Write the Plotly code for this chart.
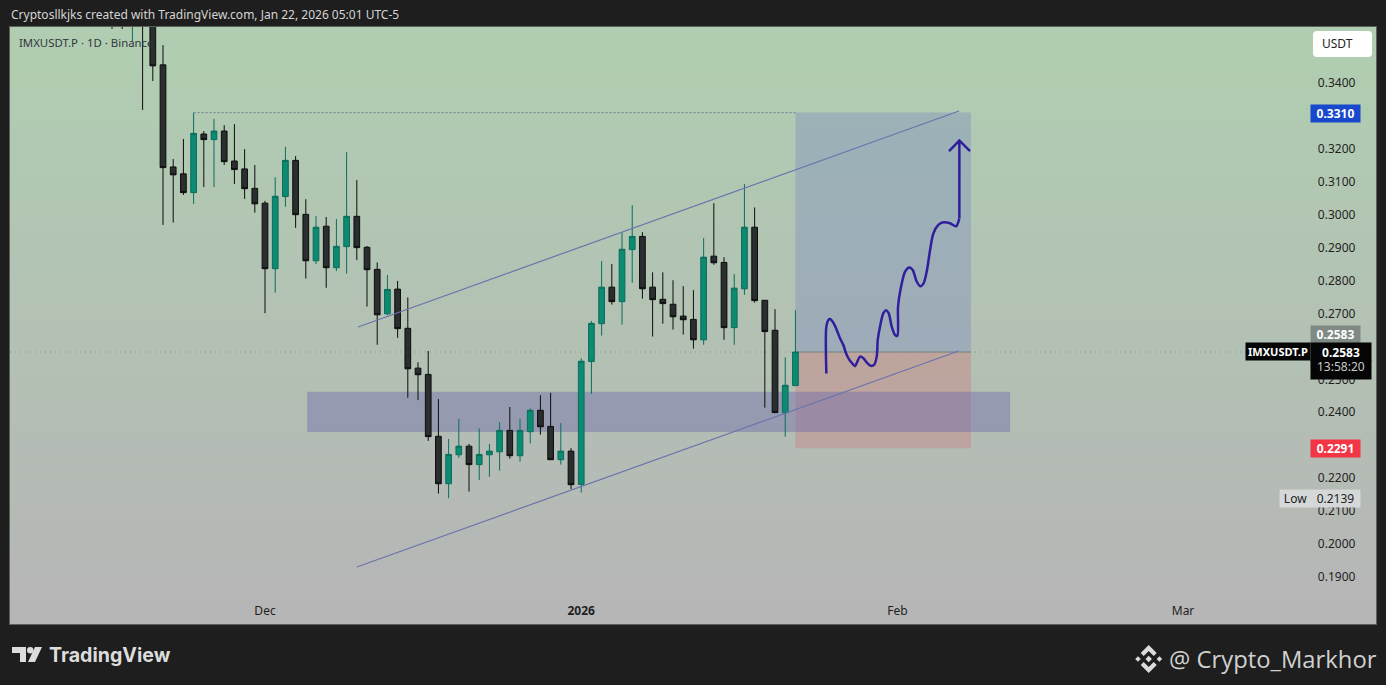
import pandas as pd
import plotly.graph_objects as go

W, H = 1386, 685
PLOT_L, PLOT_R, PLOT_T, PLOT_B = 10, 1376, 27, 624

# daily candles, starts Nov 16 2025
start_day = "2025-11-16"
opens = [.3750, .3700, .3600, .3720, .3600, .3455, .3145, .3124, .3067, .3245, .3228, .3254, .3163, .3139, .3080,
         .3035, .2836, .3055, .3165, .3001, .2860, .2965, .2839, .2903, .2995, .2901, .2834, .2699, .2774, .2655,
         .2534, .2515, .2327, .2183, .2271, .2297, .2241, .2271, .2280, .2345, .2268, .2341, .2406, .2357, .2256, .2282,
         .2181, .2554, .2669, .2780, .2736, .2894, .2934, .2780, .2743, .2728, .2692, .2682, .2620, .2874, .2855,
         .2657, .2775, .2962, .2740, .2649, .2399, .2481]
highs = [.3800, .3760, .3760, .3780, .3650, .3515, .3169, .3230, .3310, .3254, .3291, .3272, .3275, .3199, .3151,
         .3042, .3114, .3206, .3178, .3047, .2996, .2993, .2987, .3190, .3105, .2905, .2855, .2817, .2799, .2749,
         .2552, .2586, .2440, .2319, .2380, .2304, .2351, .2304, .2370, .2416, .2380, .2412, .2452, .2459, .2367, .2291,
         .2564, .2677, .2859, .2850, .2945, .3029, .2947, .2825, .2825, .2801, .2783, .2771, .2929, .3035, .2871,
         .2820, .3093, .3022, .2740, .2713, .2567, .2710]
lows = [.3564, .3564, .3524, .3318, .3406, .2969, .2976, .3060, .3033, .3084, .3084, .3151, .3093, .3048, .3006,
        .2701, .2763, .3024, .2960, .2806, .2850, .2778, .2829, .2821, .2862, .2721, .2605, .2695, .2626, .2444,
        .2437, .2313, .2153, .2139, .2262, .2159, .2194, .2204, .2223, .2259, .2250, .2305, .2332, .2256, .2241, .2167,
        .2156, .2456, .2633, .2727, .2666, .2793, .2745, .2630, .2669, .2651, .2636, .2593, .2605, .2848, .2620,
        .2605, .2757, .2733, .2414, .2399, .2326, .2481]
closes = [.3700, .3620, .3720, .3600, .3452, .3143, .3121, .3067, .3247, .3228, .3254, .3161, .3137, .3079, .3033,
          .2836, .3056, .3165, .3000, .2860, .2962, .2839, .2904, .2995, .2900, .2833, .2696, .2773, .2654, .2532,
          .2514, .2326, .2183, .2272, .2297, .2241, .2272, .2282, .2345, .2268, .2345, .2406, .2356, .2256, .2282, .2180,
          .2555, .2670, .2780, .2736, .2895, .2934, .2775, .2742, .2730, .2690, .2681, .2620, .2871, .2854, .2657,
          .2777, .2962, .2739, .2645, .2399, .2482, .2583]

# drawings on the chart
channel_top_x = ["2025-12-10 03:00", "2026-02-07 01:00"]
channel_top_y = [.2659, .3315]
channel_low_x = ["2025-12-10 00:00", "2026-02-07 00:00"]
channel_low_y = [.1930, .2586]
high_level_x = ["2025-11-24", "2026-01-22"]
high_level_y = [.3310, .3310]
zone_x = ["2025-12-05 03:00", "2026-02-12 01:00"]
zone_y = [.2340, .2462]
position_x = ["2026-01-22", "2026-02-08 05:00"]
target_price, entry_price, stop_price = .3310, .2583, .2291
low_price = .2139

# hand drawn path, x = days after Dec 1
path_days = [55.03, 55.03, 55.23, 55.39, 55.72, 56.05, 56.37, 56.70, 56.96, 57.29, 57.61, 57.84, 58.07, 58.33, 58.66,
             59.05, 59.38, 59.71, 59.97, 60.07, 60.29, 60.62, 60.88, 61.14, 61.44, 61.76, 61.99, 62.06, 62.32, 62.75,
             63.17, 63.50, 63.89, 64.22, 64.54, 64.87, 65.20, 65.52, 66.01, 66.50, 67.16, 67.75, 68.07]
path_prices = [.2518, .2660, .2680, .2683, .2672, .2650, .2625, .2604, .2579, .2559, .2547, .2540, .2554, .2569, .2564,
               .2549, .2541, .2544, .2569, .2620, .2660, .2701, .2710, .2701, .2660, .2635, .2632, .2721, .2776, .2827,
               .2840, .2832, .2797, .2783, .2790, .2827, .2893, .2943, .2969, .2977, .2974, .2965, .2989]
arrow_days = [68.07, 68.07, 67.06, 68.07, 69.12]
arrow_prices = [.2989, .3225, .3193, .3225, .3193]

y_ticks = [.34, .32, .31, .30, .29, .28, .27, .25, .24, .22, .21, .20, .19]
x_ticks = ["2025-12-01", "2026-01-01", "2026-02-01", "2026-03-01"]
x_labels = ["Dec", "<b>2026</b>", "Feb", "Mar"]


def px(x):
    return (x - PLOT_L) / (PLOT_R - PLOT_L)


def py(y):
    return (PLOT_B - y) / (PLOT_B - PLOT_T)


def days(vals):
    return pd.Timestamp("2025-12-01") + pd.to_timedelta(vals, unit="D")


def poly(points):
    return "M " + " L ".join(f"{px(a)},{py(b)}" for a, b in points) + " Z"


def label(fig, text, x, y, color="#ffffff", size=12, bg=None, w=None, h=None, bold=False, family="Noto Sans", anchor="center"):
    fig.add_annotation(text=f"<b>{text}</b>" if bold else text, x=px(x), y=py(y), xref="paper", yref="paper",
                       showarrow=False, xanchor=anchor, yanchor="middle", bgcolor=bg, width=w, height=h, borderpad=0,
                       font=dict(color=color, size=size, family=family))


dates = pd.date_range(start_day, periods=len(opens), freq="D")

fig = go.Figure()

# background gradient, green on top to grey at the bottom
# each band runs to the bottom of the plot so no seams show
shapes = []
steps = 48
for i in range(steps):
    t = i / (steps - 1)
    col = f"rgb({176 + 6 * t:.0f},{205 - 23 * t:.0f},{177 + 5 * t:.0f})"
    shapes.append(dict(type="rect", xref="paper", yref="paper", x0=0, x1=1, y0=0, y1=1 - i / steps,
                       fillcolor=col, line_width=0, layer="below"))

# support zone + long position boxes
shapes.append(dict(type="rect", x0=position_x[0], x1=position_x[1], y0=entry_price, y1=target_price,
                   fillcolor="rgba(108,121,196,0.3)", line_width=0, layer="below"))
shapes.append(dict(type="rect", x0=position_x[0], x1=position_x[1], y0=stop_price, y1=entry_price,
                   fillcolor="rgba(212,103,110,0.3)", line_width=0, layer="below"))
shapes.append(dict(type="rect", x0=zone_x[0], x1=zone_x[1], y0=zone_y[0], y1=zone_y[1],
                   fillcolor="rgba(103,100,170,0.4)", line_width=0, layer="below"))
shapes.append(dict(type="line", x0=position_x[0], x1=position_x[1], y0=entry_price, y1=entry_price,
                   line=dict(color="#74827f", width=1), layer="below"))
shapes.append(dict(type="line", xref="paper", x0=0, x1=px(1246), y0=entry_price, y1=entry_price,
                   line=dict(color="#8d918c", width=1, dash="1px,4px"), layer="below"))

# price scale button
x0, x1, y0, y1 = 1313, 1372, 31, 57
shapes.append(dict(type="path", xref="paper", yref="paper", fillcolor="#ffffff", line_width=0,
                   path=f"M {px(x0 + 4)},{py(y0)} L {px(x1 - 4)},{py(y0)} Q {px(x1)},{py(y0)} {px(x1)},{py(y0 + 4)} "
                        f"L {px(x1)},{py(y1 - 4)} Q {px(x1)},{py(y1)} {px(x1 - 4)},{py(y1)} "
                        f"L {px(x0 + 4)},{py(y1)} Q {px(x0)},{py(y1)} {px(x0)},{py(y1 - 4)} "
                        f"L {px(x0)},{py(y0 + 4)} Q {px(x0)},{py(y0)} {px(x0 + 4)},{py(y0)} Z"))

# TradingView logo
logo = "#dcdcdc"
shapes.append(dict(type="path", xref="paper", yref="paper", fillcolor=logo, line_width=0,
                   path=poly([(12, 647), (26, 647), (26, 662), (20, 662), (20, 653), (12, 653)])))
shapes.append(dict(type="path", xref="paper", yref="paper", fillcolor=logo, line_width=0,
                   path=poly([(35, 647), (42, 647), (35, 662), (28, 662)])))
shapes.append(dict(type="circle", xref="paper", yref="paper", fillcolor=logo, line_width=0,
                   x0=px(27), x1=px(33.5), y0=py(653.5), y1=py(647)))

# Binance logo
cx, cy = 1148.7, 659
for dx, r in [(0, 3.2), (-10.7, 2.8), (10.7, 2.8)]:
    shapes.append(dict(type="path", xref="paper", yref="paper", fillcolor=logo, line_width=0,
                       path=poly([(cx + dx, cy - r), (cx + dx + r, cy), (cx + dx, cy + r), (cx + dx - r, cy)])))
for sgn in (-1, 1):
    shapes.append(dict(type="path", xref="paper", yref="paper", fillcolor=logo, line_width=0,
                       path=poly([(cx, cy + sgn * 14), (cx + 8, cy + sgn * 6), (cx + 5, cy + sgn * 3), (cx, cy + sgn * 8),
                                  (cx - 5, cy + sgn * 3), (cx - 8, cy + sgn * 6)])))

fig.add_trace(go.Candlestick(
    x=dates, open=opens, high=highs, low=lows, close=closes,
    increasing=dict(line=dict(color="#0a6e5c", width=1), fillcolor="#0c8a72"),
    decreasing=dict(line=dict(color="#0d0d0d", width=1), fillcolor="#2b2e2e"),
    whiskerwidth=0, hoverinfo="skip",
))

fig.add_trace(go.Scatter(x=high_level_x, y=high_level_y, mode="lines", hoverinfo="skip",
                         line=dict(color="#6f7f9c", width=1, dash="2px,2px")))
fig.add_trace(go.Scatter(x=channel_top_x, y=channel_top_y, mode="lines", hoverinfo="skip",
                         line=dict(color="#6a74ad", width=1.2)))
fig.add_trace(go.Scatter(x=channel_low_x, y=channel_low_y, mode="lines", hoverinfo="skip",
                         line=dict(color="#6a74ad", width=1.2)))
fig.add_trace(go.Scatter(x=days(path_days), y=path_prices, mode="lines", hoverinfo="skip",
                         line=dict(color="#2f1f9c", width=2.5, shape="spline", smoothing=0.8)))
fig.add_trace(go.Scatter(x=days(arrow_days), y=arrow_prices, mode="lines", hoverinfo="skip",
                         line=dict(color="#2f1f9c", width=2.5)))

fig.update_layout(
    width=W, height=H,
    margin=dict(l=PLOT_L, r=W - PLOT_R, t=PLOT_T, b=H - PLOT_B, pad=0),
    paper_bgcolor="#1e1e1e",
    plot_bgcolor="rgba(0,0,0,0)",
    showlegend=False,
    boxgap=0.2,
    shapes=shapes,
    font=dict(family="Noto Sans", size=12, color="#1f1f1f"),
)
fig.update_xaxes(
    type="date", range=["2025-11-06 00:00", "2026-03-19 22:00"], rangeslider_visible=False,
    tickmode="array", tickvals=x_ticks, ticktext=x_labels, ticklabelposition="inside", ticklabelstandoff=6,
    ticks="", showgrid=False, zeroline=False, showline=True, linecolor="#5a5f5a", mirror=True,
    tickfont=dict(color="#1f1f1f", size=12),
)
fig.update_yaxes(
    range=[.1757, .3570], side="right", tickmode="array", tickvals=y_ticks, tickformat=".4f",
    ticklabelposition="inside", ticklabelstandoff=20, ticks="", showgrid=False, zeroline=False,
    showline=True, linecolor="#5a5f5a", mirror=True, tickfont=dict(color="#1f1f1f", size=12),
)

# header, footer
label(fig, "Cryptosllkjks created with TradingView.com, Jan 22, 2026 05:01 UTC-5", 10, 15, color="#d4d4d4", size=12, anchor="left")
label(fig, "IMXUSDT.P · 1D · Binance", 18, 42, color="#33363d", size=11.4, anchor="left")
label(fig, "<b>TradingView</b>", 48, 655, color=logo, size=19.6, family="Inter", anchor="left")
label(fig, "@ Crypto_Markhor", 1168, 659, color="#d0d0d0", size=23.8, family="Open Sans", anchor="left")

# price scale labels
label(fig, "USDT", 1337, 44, color="#222222", size=12)
label(fig, "0.3310", 1335.5, 113, bg="#1848cc", w=49, h=17, bold=True)
label(fig, "0.2583", 1335.5, 334.5, bg="#808a85", w=49, h=17, bold=True)
label(fig, "IMXUSDT.P", 1278, 351.5, bg="#050505", w=64, h=17, size=11, bold=True)
label(fig, "0.2583", 1341, 351.5, bg="#050505", w=60, h=18, bold=True)
label(fig, " ", 1341, 370, bg="#050505", w=60, h=18)
label(fig, "13:58:20", 1341, 366, color="#c8c8c8", size=12)
label(fig, "0.2291", 1335.5, 448.5, bg="#f23645", w=49, h=17, bold=True)
label(fig, "Low", 1295.5, 498.5, color="#222222", bg="#d5d8d8", w=31, h=17)
label(fig, "0.2139", 1335.5, 498.5, color="#222222", bg="#d5d8d8", w=49, h=17)

# page margin off so the plot sits at 0,0, no modebar in the shot
fig.write_html("out.html", config={"displayModeBar": False},
               post_script="document.body.style.margin='0';document.body.style.background='#1e1e1e';")
